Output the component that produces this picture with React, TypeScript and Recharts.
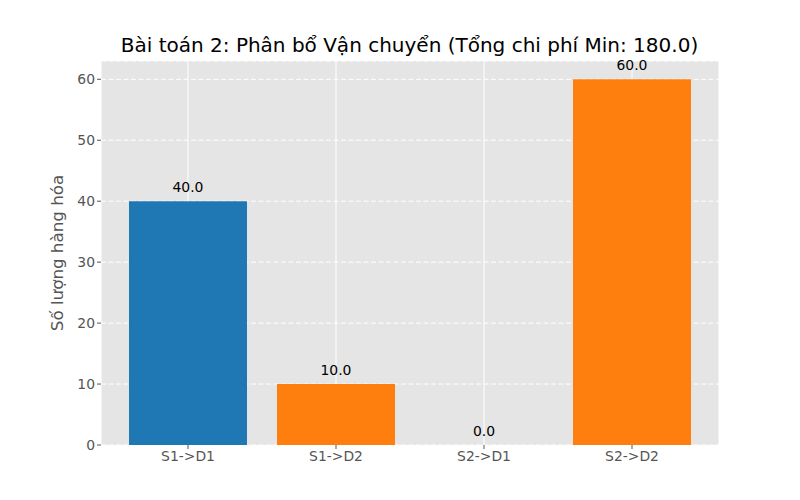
import React from 'react';
import { ComposedChart, Bar, Line, XAxis, YAxis, CartesianGrid, Cell, LabelList } from 'recharts';

const categories = ['S1->D1', 'S1->D2', 'S2->D1', 'S2->D2'];
const quantities = [40, 10, 0, 60];
const barColors = ['#1f77b4', '#ff7f0e', '#ff7f0e', '#ff7f0e'];
const yTicks = [0, 10, 20, 30, 40, 50, 60];
const titleText = 'Bài toán 2: Phân bổ Vận chuyển (Tổng chi phí Min: 180.0)';
const yLabelText = 'Số lượng hàng hóa';

const data = categories.map((c, i) => ({ name: c, value: quantities[i] }));
const FONT = '"DejaVu Sans", sans-serif';

const ValueLabel = (props: any) => {
  const { x, y, value } = props;
  if (x == null || y == null) return null;
  return (
    <text x={Number(x)} y={Number(y) - 9.5} textAnchor="middle" fill="#000" fontSize={13.9} fontFamily={FONT}>
      {Number(value).toFixed(1)}
    </text>
  );
};

export default function App() {
  return (
    <div style={{ position: 'absolute', left: 0, top: 0, width: 800, height: 500, background: '#fff', fontFamily: FONT }}>
      <div style={{ position: 'absolute', left: 100, width: 619, top: 34, textAlign: 'center', fontSize: 20, lineHeight: '22px', color: '#000', whiteSpace: 'nowrap' }}>
        {titleText}
      </div>
      <div style={{ position: 'absolute', left: 57, top: 253, width: 0, height: 0 }}>
        <div style={{ position: 'absolute', transform: 'translate(-50%, -50%) rotate(-90deg)', whiteSpace: 'nowrap', fontSize: 16.7, color: '#555' }}>
          {yLabelText}
        </div>
      </div>
      <ComposedChart width={800} height={500} data={data} margin={{ top: 61, right: 81, bottom: 25, left: 41 }} barSize={118}>
        <CartesianGrid fill="#e5e5e5" stroke="#ffffff" strokeDasharray="5 2.5" vertical={false} horizontal={true} />
        <CartesianGrid stroke="#ffffff" vertical={true} horizontal={false} />
        <XAxis dataKey="name" padding={{ left: 13, right: 13 }} height={30} axisLine={false}
          tickLine={{ stroke: '#555' }} tickSize={4}
          tick={{ fill: '#555', fontSize: 13.9, fontFamily: FONT }} interval={0} />
        <YAxis width={60} domain={[0, 63]} ticks={yTicks} axisLine={false} tickLine={{ stroke: '#555' }} tickSize={4}
          tick={{ fill: '#555', fontSize: 13.9, fontFamily: FONT }} />
        <Bar dataKey="value" isAnimationActive={false}>
          {data.map((d, i) => <Cell key={d.name} fill={barColors[i]} />)}
        </Bar>
        <Line dataKey="value" stroke="none" dot={false} activeDot={false} isAnimationActive={false} legendType="none">
          <LabelList dataKey="value" content={<ValueLabel />} />
        </Line>
      </ComposedChart>
    </div>
  );
}
